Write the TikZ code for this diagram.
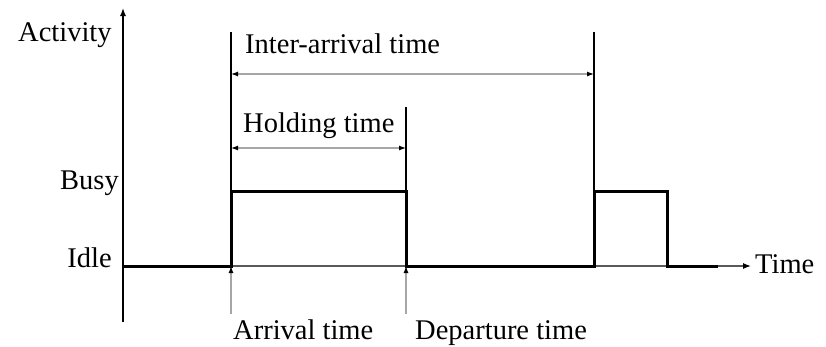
\documentclass[tikz,border=0pt]{standalone}
\usepackage{fontspec}
\setmainfont{Liberation Serif}
\usetikzlibrary{arrows.meta}
\begin{document}
\begin{tikzpicture}[x=1pt,y=-1pt,
  lbl/.style={anchor=base west,inner sep=0pt,font=\fontsize{28.5}{34}\selectfont},
  axis/.style={line width=1.3pt,black},
  sig/.style={line width=3pt,black,line join=miter},
  thin/.style={line width=1.3pt,black},
  dim/.style={line width=1.2pt,gray!70,{Latex[length=7pt,width=5pt,black]}-{Latex[length=7pt,width=5pt,black]}},
  up/.style={line width=1.2pt,gray!70,-{Latex[length=7pt,width=5pt,black]}}]
\useasboundingbox (0,0) rectangle (826,346);
% axes
\coordinate (yb) at (123,322);
\coordinate (yt) at (123,8);
\coordinate (xo) at (123,266);
\coordinate (xt) at (751,266);
\draw[axis,-{Latex[length=8pt,width=6pt]}] (yb) -- (yt);
\draw[line width=1.2pt,gray!70!black,-{Latex[length=8pt,width=6pt,black]}] (xo) -- (xt);
% signal
\coordinate (a0) at (231,266);
\coordinate (a1) at (231,191);
\coordinate (d1) at (406,191);
\coordinate (d0) at (406,266);
\coordinate (b0) at (594,266);
\coordinate (b1) at (594,191);
\coordinate (c1) at (667,191);
\coordinate (c0) at (667,266);
\coordinate (e0) at (718,266);
\draw[sig] (xo) -- (a0) -- (a1) -- (d1) -- (d0) -- (b0) -- (b1) -- (c1) -- (c0) -- (e0);
% vertical markers
\coordinate (at) at (231,32);
\coordinate (dt) at (406,107);
\coordinate (bt) at (594,32);
\draw[thin] (a1) -- (at);
\draw[thin] (d1) -- (dt);
\draw[thin] (b1) -- (bt);
% dimension arrows
\coordinate (ia1) at (231,74);
\coordinate (ia2) at (594,74);
\coordinate (h1) at (231,148);
\coordinate (h2) at (406,148);
\draw[dim] (ia1) -- (ia2);
\draw[dim] (h1) -- (h2);
% arrival/departure arrows
\coordinate (ab) at (231,314);
\coordinate (db) at (406,314);
\draw[up] (ab) -- (a0);
\draw[up] (db) -- (d0);
% labels
\node[lbl] (activity) at (18,41) {Activity};
\node[lbl] (inter) at (245,53) {Inter-arrival time};
\node[lbl] (hold) at (243,132) {Holding time};
\node[lbl,anchor=base east] (busy) at (119,189) {Busy};
\node[lbl,anchor=base east] (idle) at (112,267) {Idle};
\node[lbl] (time) at (755,273) {Time};
\node[lbl] (arr) at (233,339) {Arrival time};
\node[lbl] (dep) at (415,339) {Departure time};
\end{tikzpicture}
\end{document}
